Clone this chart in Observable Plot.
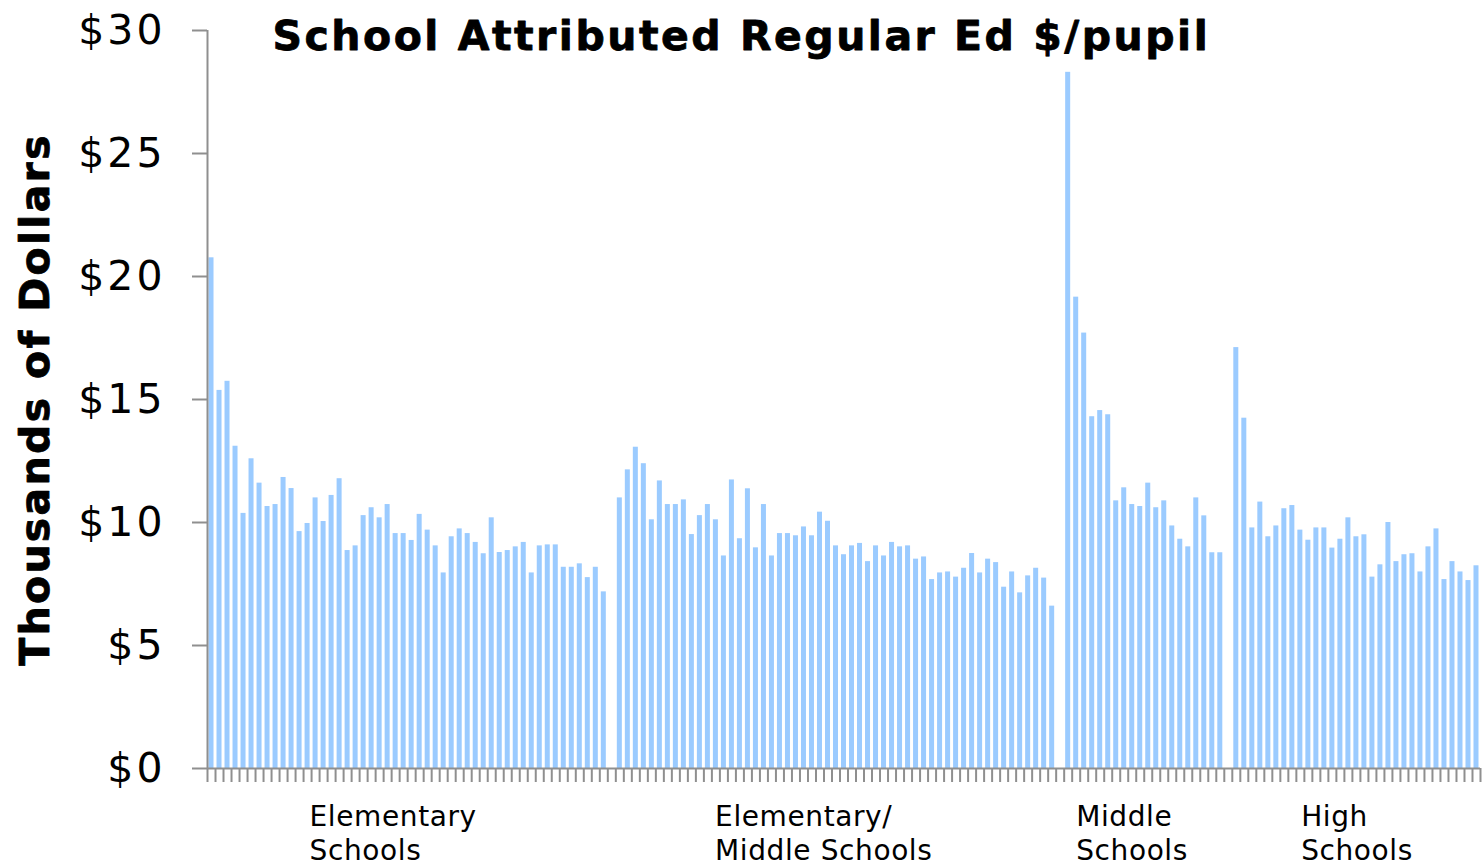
<!DOCTYPE html>
<html>
<head>
<meta charset="utf-8">
<script src="https://cdn.jsdelivr.net/npm/d3@7"></script>
<script src="https://cdn.jsdelivr.net/npm/@observablehq/plot@0.6"></script>
<style>
  html, body { margin: 0; padding: 0; background: #fff; }
  #chart svg { display: block; }
</style>
</head>
<body>
<div id="chart"></div>
<script>
// Values in thousands of dollars per pupil
const elementary = [20.76, 15.37, 15.74, 13.1, 10.37, 12.59, 11.6, 10.65, 10.73, 11.83,
  11.38, 9.63, 9.96, 11.0, 10.04, 11.1, 11.78, 8.86, 9.05, 10.28,
  10.6, 10.19, 10.73, 9.55, 9.55, 9.27, 10.33, 9.69, 9.05, 7.95,
  9.42, 9.74, 9.55, 9.19, 8.73, 10.19, 8.78, 8.86, 9.01, 9.19,
  7.95, 9.05, 9.09, 9.09, 8.18, 8.18, 8.32, 7.76, 8.18, 7.18];
const elementaryMiddle = [11.0, 12.14, 13.06, 12.39, 10.11, 11.69, 10.73, 10.73, 10.92, 9.51,
  10.28, 10.73, 10.11, 8.64, 11.73, 9.34, 11.37, 8.97, 10.73, 8.64,
  9.55, 9.55, 9.46, 9.82, 9.46, 10.42, 10.05, 9.05, 8.69, 9.05,
  9.15, 8.41, 9.05, 8.64, 9.19, 9.01, 9.05, 8.51, 8.6, 7.68,
  7.95, 7.99, 7.78, 8.14, 8.74, 7.95, 8.51, 8.37, 7.37, 7.99,
  7.14, 7.83, 8.14, 7.74, 6.6];
const middle = [28.3, 19.16, 17.7, 14.3, 14.55, 14.38, 10.88, 11.41, 10.73, 10.65,
  11.6, 10.6, 10.88, 9.86, 9.32, 9.01, 11.0, 10.27, 8.77, 8.77];
const high = [17.11, 14.24, 9.78, 10.83, 9.42, 9.86, 10.56, 10.69, 9.69, 9.28,
  9.78, 9.78, 8.96, 9.32, 10.19, 9.42, 9.5, 7.78, 8.28, 10.0,
  8.41, 8.69, 8.73, 7.99, 9.01, 9.74, 7.68, 8.41, 7.99, 7.64, 8.24];

const groups = [elementary, elementaryMiddle, middle, high];
// category labels sit under particular categories (slot positions along the axis)
const categoryLabels = [
  {slot: 12.75, text: "Elementary\nSchools"},
  {slot: 63.4, text: "Elementary/\nMiddle Schools"},
  {slot: 108.5, text: "Middle\nSchools"},
  {slot: 136.6, text: "High\nSchools"}
];
const yTicks = [0, 5, 10, 15, 20, 25, 30];
const title = "School Attributed Regular Ed $/pupil";
const yLabel = "Thousands of Dollars";

// Build the bar table: one empty category between groups
const table = [];
let slot = 0;
groups.forEach((g, gi) => {
  g.forEach(v => { table.push({slot, value: v}); slot++; });
  if (gi < groups.length - 1) slot++;
});
const nSlots = slot;
const slotEdges = d3.range(0, nSlots + 1);

const gray = "#8f8f8f";
const font = "DejaVu Sans, Verdana, sans-serif";

const chart = Plot.plot({
  width: 1482,
  height: 864,
  marginLeft: 207,
  marginRight: 2,
  marginTop: 30,
  marginBottom: 96,
  style: {fontFamily: font, background: "#fff", overflow: "visible"},
  x: {type: "linear", domain: [0, nSlots], axis: null},
  y: {domain: [0, 30], axis: null},
  marks: [
    Plot.rectY(table, {
      x1: d => d.slot, x2: d => d.slot + 1, y: "value",
      fill: "#9BCBFF", insetLeft: 1.5, insetRight: 1.5
    }),
    Plot.axisX({ticks: slotEdges, tickSize: 14, tickFormat: () => "", stroke: gray, strokeWidth: 2, label: null}),
    Plot.axisY({ticks: yTicks, tickSize: 15, tickPadding: 27, tickFormat: d => "$" + d,
      fontSize: 41, fill: "#000", stroke: gray, strokeWidth: 2, label: null}),
    Plot.ruleX([0], {stroke: gray, strokeWidth: 2}),
    Plot.ruleY([0], {stroke: gray, strokeWidth: 2}),
    Plot.text(categoryLabels, {
      x: "slot", text: "text", frameAnchor: "bottom", dy: 34,
      textAnchor: "start", lineAnchor: "top", lineHeight: 1.2,
      fontSize: 28, fill: "#000"
    }),
    Plot.text([yLabel], {
      frameAnchor: "left", dx: -172, rotate: -90, textAnchor: "middle", lineAnchor: "middle",
      fontSize: 41, fontWeight: "bold", fill: "#000", stroke: "#000", strokeWidth: 0.8
    }),
    Plot.text([title], {
      frameAnchor: "top-left", dx: 65, dy: -10, textAnchor: "start", lineAnchor: "top",
      fontSize: 41, fontWeight: "bold", fill: "#000", stroke: "#000", strokeWidth: 0.8
    })
  ]
});
document.getElementById("chart").appendChild(chart);

// widen letter spacing to match the reference's wider type
const svg = d3.select(chart);
svg.selectAll('g[aria-label="y-axis tick label"] text').style("letter-spacing", "3px");
svg.selectAll('g[aria-label="text"] text').each(function() {
  const t = this.textContent;
  const sel = d3.select(this);
  if (t === title) sel.style("letter-spacing", "2.5px");
  else if (t === yLabel) sel.style("letter-spacing", "2.3px");
  else sel.style("letter-spacing", "0.6px");
});
</script>
</body>
</html>
